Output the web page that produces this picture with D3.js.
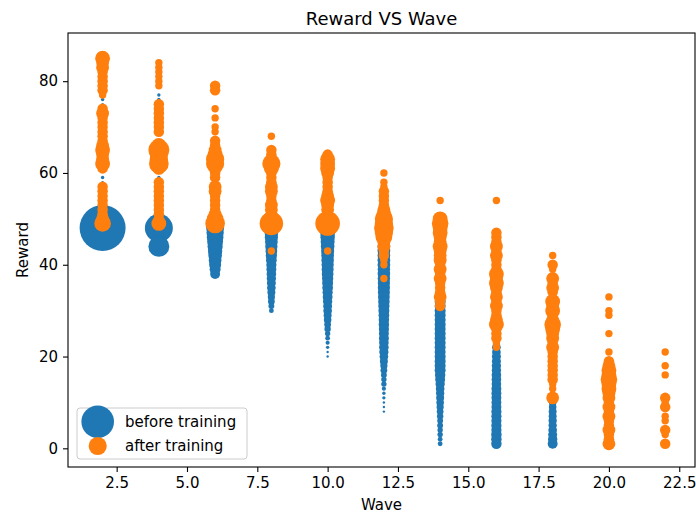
<!DOCTYPE html>
<html>
<head>
<meta charset="utf-8">
<title>Reward VS Wave</title>
<script src="https://d3js.org/d3.v7.min.js"></script>
<style>
  body { margin: 0; background: #fff; }
  svg text { font-family: "DejaVu Sans", sans-serif; fill: #000; }
</style>
</head>
<body>
<div id="chart"></div>
<script>
// waves on the x axis
const waves = [2, 4, 6, 8, 10, 12, 14, 16, 18, 20, 22];
const waveTicks = [2.5, 5, 7.5, 10, 12.5, 15, 17.5, 20, 22.5];
const rewardTicks = [0, 20, 40, 60, 80];

// one entry per wave: [reward, count] pairs
const beforeTraining = [
  [[48, 367], [76, 2], [75, 1], [59, 2], [58, 1]],
  [[48, 136], [47, 20], [46, 20], [45, 30], [44, 76], [77, 2], [76, 2], [60, 1], [59, 2]],
  [[48, 56], [47, 52], [46, 48], [45, 44], [44, 40], [43, 36], [42, 32], [41, 28], [40, 25], [39, 21], [38, 17], [58, 1]],
  [[48, 35], [47, 32], [46, 30], [45, 28], [44, 26], [43, 24], [42, 22], [41, 20], [40, 18], [39, 17],
   [38, 16], [37, 15], [36, 14], [35, 13], [34, 11], [33, 9], [32, 8], [31, 6], [30, 4]],
  [[48, 40], [47, 38], [46, 36], [45, 34], [44, 32], [43, 30], [42, 28], [41, 27], [40, 26], [39, 25],
   [38, 24], [37, 22], [36, 21], [35, 20], [34, 18], [33, 17], [32, 15], [31, 14], [30, 13], [29, 11],
   [28, 10], [27, 8], [26, 7], [25, 5], [24, 4], [23, 3], [22, 2], [21, 1], [20, 1]],
  [[44, 28], [43, 28], [42, 28], [41, 28], [40, 28], [39, 27], [38, 27], [37, 27], [36, 26], [35, 26],
   [34, 25], [33, 24], [32, 23], [31, 22], [30, 21], [29, 20], [28, 19], [27, 19], [26, 18], [25, 17],
   [24, 17], [23, 16], [22, 16], [21, 15], [20, 13], [19, 11], [18, 9], [17, 8], [16, 6], [15, 5],
   [14, 5], [13, 3], [12, 2], [11, 2], [10, 1], [9, 1], [8, 1]],
  [[32, 21], [31, 21], [30, 21], [29, 21], [28, 21], [27, 21], [26, 21], [25, 21], [24, 21], [23, 21],
   [22, 21], [21, 21], [20, 21], [19, 21], [18, 21], [17, 21], [16, 19], [15, 17], [14, 15], [13, 13],
   [12, 12], [11, 11], [10, 10], [9, 9], [8, 8], [7, 7], [6, 6], [5, 6], [4, 5], [3, 5], [2, 4], [1, 4]],
  [[22, 13], [21, 13], [20, 14], [19, 14], [18, 15], [17, 15], [16, 16], [15, 16], [14, 16], [13, 17],
   [12, 17], [11, 17], [10, 17], [9, 17], [8, 18], [7, 18], [6, 18], [5, 18], [4, 18], [3, 19], [2, 19], [1, 19]],
  [[10, 10], [9, 10], [8, 11], [7, 11], [6, 12], [5, 12], [4, 13], [3, 14], [2, 15], [1, 17]],
  [],
  []
];

const afterTraining = [
  [[85, 4], [84, 3], [83, 3], [82, 2], [81, 2], [80, 2], [79, 2], [78, 2], [77, 1], [74, 2], [73, 3],
   [72, 2], [71, 2], [70, 2], [69, 2], [68, 2], [67, 2], [66, 3], [65, 4], [64, 3], [63, 3], [62, 4],
   [61, 2], [57, 2], [56, 2], [55, 2], [54, 2], [53, 2], [52, 2], [51, 2], [50, 3], [49, 5]],
  [[84, 1], [83, 1], [82, 1], [81, 1], [80, 1], [79, 1], [75, 2], [74, 2], [73, 2], [72, 2], [71, 2],
   [70, 2], [69, 2], [66, 4], [65, 8], [64, 6], [63, 6], [62, 7], [61, 3], [58, 2], [57, 2], [56, 2],
   [55, 2], [54, 2], [53, 2], [52, 2], [51, 2], [50, 2], [49, 4]],
  [[79, 2], [78, 2], [74, 1], [72, 1], [70, 1], [69, 1], [67, 2], [66, 2], [65, 3], [64, 4], [63, 6],
   [62, 6], [61, 3], [60, 2], [59, 2], [57, 3], [56, 3], [55, 2], [54, 2], [53, 2], [52, 2], [51, 3],
   [50, 5], [49, 7]],
  [[68, 1], [65, 2], [64, 2], [63, 3], [62, 6], [61, 4], [60, 2], [59, 2], [58, 2], [57, 3], [56, 3],
   [55, 2], [54, 2], [53, 3], [52, 3], [51, 2], [50, 5], [49, 10], [43, 1]],
  [[64, 2], [63, 4], [62, 4], [61, 4], [60, 3], [59, 2], [58, 2], [57, 2], [56, 2], [55, 3], [54, 4],
   [53, 3], [52, 3], [51, 2], [50, 4], [49, 11], [43, 1]],
  [[60, 1], [58, 1], [57, 1], [56, 2], [55, 2], [54, 2], [53, 2], [52, 3], [51, 4], [50, 6], [49, 6],
   [48, 7], [47, 6], [46, 5], [45, 3], [44, 3], [43, 2], [42, 2], [41, 1], [40, 1], [37, 1]],
  [[54, 1], [50, 4], [49, 5], [48, 4], [47, 4], [46, 3], [45, 3], [44, 4], [43, 3], [42, 3], [41, 3],
   [40, 2], [39, 3], [38, 2], [37, 3], [36, 2], [35, 2], [34, 2], [33, 3], [32, 2], [31, 2]],
  [[54, 1], [47, 2], [46, 2], [45, 2], [44, 3], [43, 2], [42, 3], [41, 2], [40, 2], [39, 2], [38, 4],
   [37, 3], [36, 4], [35, 3], [34, 2], [33, 3], [32, 2], [31, 3], [30, 2], [29, 2], [28, 3], [27, 4],
   [26, 2], [25, 2], [24, 2], [23, 1], [22, 1]],
  [[42, 1], [40, 2], [39, 1], [37, 3], [36, 2], [35, 3], [34, 2], [32, 4], [31, 3], [30, 4], [29, 2],
   [28, 3], [27, 5], [26, 4], [25, 3], [24, 3], [23, 2], [22, 3], [21, 2], [20, 2], [19, 2], [18, 2],
   [17, 2], [16, 2], [15, 2], [14, 1], [13, 1], [11, 3]],
  [[33, 1], [30, 1], [29, 1], [25, 1], [21, 1], [19, 2], [18, 3], [17, 4], [16, 4], [15, 5], [14, 4],
   [13, 4], [12, 3], [11, 3], [10, 2], [9, 3], [8, 2], [7, 3], [6, 2], [5, 2], [4, 3], [3, 2], [2, 2], [1, 3]],
  [[21, 1], [18, 1], [16, 1], [11, 2], [10, 1], [9, 2], [7, 1], [6, 1], [4, 2], [3, 1], [1, 2]]
];

const seriesNames = ["before training", "after training"];
const colors = ["#1f77b4", "#ff7f0e"];

// flatten to points
function flatten(rows) {
  const out = [];
  rows.forEach(function(pairs, i) {
    pairs.forEach(function(p) { out.push({wave: waves[i], reward: p[0], count: p[1]}); });
  });
  return out;
}
const series = [flatten(beforeTraining), flatten(afterTraining)];

const width = 696, height = 513;
const margin = {top: 33, right: 1, bottom: 46, left: 68};

const svg = d3.select("#chart").append("svg")
  .attr("width", width)
  .attr("height", height);

const x = d3.scaleLinear().domain([0.77, 23.06]).range([margin.left, width - margin.right]);
const y = d3.scaleLinear().domain([-4.07, 90.5]).range([height - margin.bottom, margin.top]);

// marker radius ~ sqrt(count), one scale per series
const maxR = [23, 12.3];
const rScales = series.map(function(pts, i) {
  return d3.scaleSqrt().domain([0, d3.max(pts, function(d) { return d.count; })]).range([0, maxR[i]]);
});

svg.append("clipPath").attr("id", "plot-clip")
  .append("rect")
  .attr("x", margin.left).attr("y", margin.top)
  .attr("width", width - margin.right - margin.left)
  .attr("height", height - margin.bottom - margin.top);

const plot = svg.append("g").attr("clip-path", "url(#plot-clip)");

series.forEach(function(pts, i) {
  plot.append("g")
    .selectAll("circle")
    .data(pts)
    .enter()
    .append("circle")
    .attr("cx", function(d) { return x(d.wave); })
    .attr("cy", function(d) { return y(d.reward); })
    .attr("r", function(d) { return rScales[i](d.count); })
    .attr("fill", colors[i]);
});

// axes
const xAxis = svg.append("g")
  .attr("transform", "translate(0," + (height - margin.bottom) + ")")
  .call(d3.axisBottom(x).tickValues(waveTicks).tickFormat(d3.format(".1f")).tickSizeOuter(0).tickSize(5).tickPadding(5));
const yAxis = svg.append("g")
  .attr("transform", "translate(" + margin.left + ",0)")
  .call(d3.axisLeft(y).tickValues(rewardTicks).tickSizeOuter(0).tickSize(5).tickPadding(5));

[xAxis, yAxis].forEach(function(g) {
  g.select(".domain").remove();
  g.selectAll(".tick line").attr("stroke", "#000").attr("stroke-width", 1.1);
  g.selectAll(".tick text").attr("font-size", 15).attr("fill", "#222");
});

// frame
svg.append("rect")
  .attr("x", margin.left).attr("y", margin.top)
  .attr("width", width - margin.right - margin.left)
  .attr("height", height - margin.bottom - margin.top)
  .attr("fill", "none")
  .attr("stroke", "#000")
  .attr("stroke-width", 1.1);

// titles
svg.append("text")
  .attr("x", (margin.left + width - margin.right) / 2)
  .attr("y", 25)
  .attr("text-anchor", "middle")
  .attr("font-size", 18)
  .text("Reward VS Wave");

svg.append("text")
  .attr("x", (margin.left + width - margin.right) / 2)
  .attr("y", 510)
  .attr("text-anchor", "middle")
  .attr("font-size", 15)
  .text("Wave");

svg.append("text")
  .attr("transform", "translate(28," + ((margin.top + height - margin.bottom) / 2) + ") rotate(-90)")
  .attr("text-anchor", "middle")
  .attr("font-size", 15)
  .text("Reward");

// legend, marker size like matplotlib: mean of min and max area
const legend = svg.append("g");
legend.append("rect")
  .attr("x", 77).attr("y", 408)
  .attr("width", 170).attr("height", 51)
  .attr("rx", 3)
  .attr("fill", "#fff").attr("fill-opacity", 0.8)
  .attr("stroke", "#ccc");

series.forEach(function(pts, i) {
  const rs = pts.map(function(d) { return rScales[i](d.count); });
  const rMin = d3.min(rs), rMax = d3.max(rs);
  const rl = Math.sqrt((rMin * rMin + rMax * rMax) / 2);
  const cy = 421.7 + i * 24.3;
  legend.append("circle")
    .attr("cx", 97.7).attr("cy", cy).attr("r", rl)
    .attr("fill", colors[i]);
  legend.append("text")
    .attr("x", 125).attr("y", cy).attr("dy", "0.35em")
    .attr("font-size", 15).attr("fill", "#222")
    .text(seriesNames[i]);
});
</script>
</body>
</html>
